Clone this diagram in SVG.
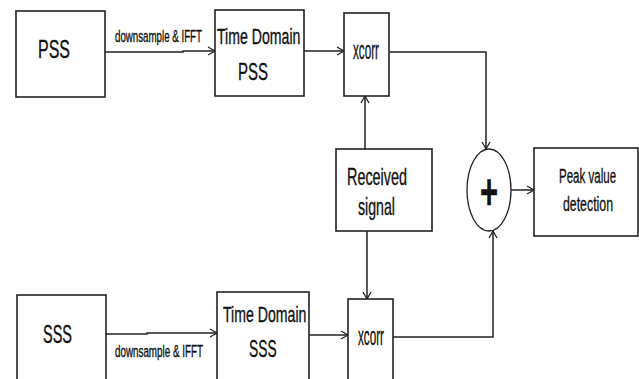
<svg xmlns="http://www.w3.org/2000/svg" width="639" height="379" viewBox="0 0 639 379">
<defs>
<style>
.box{fill:#fff;stroke:#222;stroke-width:1.6}
.ln{fill:none;stroke:#222;stroke-width:1.5}
text{font-family:"Liberation Sans",Arial,sans-serif;fill:#111;stroke:#111;stroke-width:0.35}
</style>
<marker id="arr" markerUnits="userSpaceOnUse" markerWidth="12" markerHeight="12" refX="8" refY="5" orient="auto">
<path d="M1,1 L8,5 L1,9" fill="none" stroke="#222" stroke-width="1.3"/>
</marker>
</defs>
<rect width="639" height="379" fill="#fff"/>
<g id="connectors">
<path class="ln" d="M105,52 H183 V51 H215" marker-end="url(#arr)"/>
<path class="ln" d="M304,51 H344" marker-end="url(#arr)"/>
<path class="ln" d="M389,52 H486 V149" marker-end="url(#arr)"/>
<path class="ln" d="M365,149 V96" marker-end="url(#arr)"/>
<path class="ln" d="M367,231 V299" marker-end="url(#arr)"/>
<path class="ln" d="M309,335 H348" marker-end="url(#arr)"/>
<path class="ln" d="M393,337 H493 V231" marker-end="url(#arr)"/>
<path class="ln" d="M511,190 H534" marker-end="url(#arr)"/>
<path class="ln" d="M106,334 H147 V333 H217" marker-end="url(#arr)"/>
<text transform="translate(115,42) scale(0.608,1)" font-size="16" stroke-width="0.2">downsample &amp; IFFT</text>
<text transform="translate(115,357) scale(0.615,1)" font-size="16" stroke-width="0.2">downsample &amp; IFFT</text>
</g>
<g id="pss">
<rect class="box" x="16" y="11" width="89" height="86"/>
<text transform="translate(38,58) scale(0.64,1)" font-size="25">PSS</text>
</g>
<g id="td-pss">
<rect class="box" x="215" y="10" width="89" height="86"/>
<text transform="translate(217,44) scale(0.642,1)" font-size="22">Time Domain</text>
<text transform="translate(238,80) scale(0.652,1)" font-size="23">PSS</text>
</g>
<g id="xcorr-top">
<rect class="box" x="344" y="13" width="45" height="83"/>
<text transform="translate(353,59) scale(0.45,1)" font-size="26">xcorr</text>
</g>
<g id="received">
<rect class="box" x="336" y="149" width="96" height="82"/>
<text transform="translate(347,185) scale(0.6,1)" font-size="24">Received</text>
<text transform="translate(358,215) scale(0.59,1)" font-size="24">signal</text>
</g>
<g id="sum">
<ellipse cx="489" cy="190" rx="22" ry="41" fill="#fff" stroke="#222" stroke-width="1.3"/>
<text transform="translate(489,209) scale(0.62,1)" font-size="50" font-weight="bold" text-anchor="middle" stroke-width="0">+</text>
</g>
<g id="peak">
<rect class="box" x="534" y="148" width="104" height="88"/>
<text transform="translate(559,183) scale(0.55,1)" font-size="21">Peak value</text>
<text transform="translate(563,211) scale(0.587,1)" font-size="21">detection</text>
</g>
<g id="sss">
<rect class="box" x="17" y="295" width="89" height="100"/>
<text transform="translate(43,343) scale(0.58,1)" font-size="25">SSS</text>
</g>
<g id="td-sss">
<rect class="box" x="217" y="292" width="92" height="100"/>
<text transform="translate(223,322) scale(0.642,1)" font-size="22">Time Domain</text>
<text transform="translate(249,357) scale(0.6,1)" font-size="23">SSS</text>
</g>
<g id="xcorr-bottom">
<rect class="box" x="348" y="299" width="45" height="100"/>
<text transform="translate(358,345) scale(0.45,1)" font-size="26">xcorr</text>
</g>
</svg>
